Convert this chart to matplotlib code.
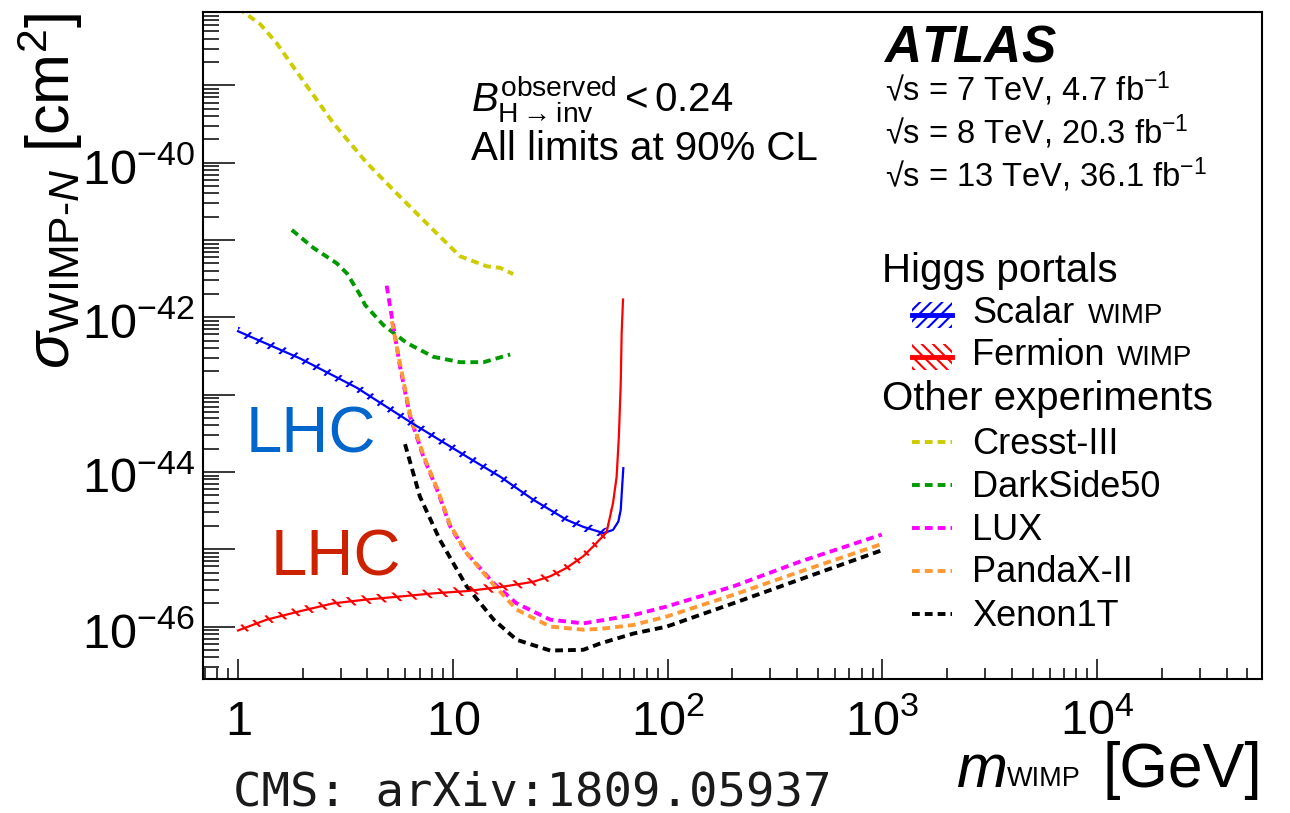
import numpy as np
import matplotlib
matplotlib.use("Agg")
import matplotlib.pyplot as plt
from matplotlib.transforms import blended_transform_factory, offset_copy
from matplotlib.patches import Rectangle
from matplotlib.lines import Line2D
from matplotlib.ticker import FixedLocator, LogLocator, NullFormatter

plt.rcParams["font.family"] = ["Liberation Sans", "DejaVu Sans"]
plt.rcParams["mathtext.fontset"] = "custom"
plt.rcParams["mathtext.rm"] = "Liberation Sans"
plt.rcParams["mathtext.it"] = "Liberation Sans:italic"
plt.rcParams["mathtext.bf"] = "Liberation Sans:bold"
plt.rcParams["mathtext.sf"] = "Liberation Sans"
plt.rcParams["hatch.linewidth"] = 1.5

# ---- Higgs-portal limits (ATLAS, B(H->inv) < 0.24) ----
scalar_mass = [1.0, 1.94, 3.57, 6.3, 11.6, 16.6, 23.7, 33.9, 40.5, 50.3, 55.7, 59.0, 60.5, 61.3, 62.2]
scalar_xsec = [6.61e-43, 2.95e-43, 1.23e-43, 4.47e-44, 1.58e-44, 8.7e-45, 4.37e-45, 2.40e-45,
               1.95e-45, 1.62e-45, 1.78e-45, 2.29e-45, 3.24e-45, 5.89e-45, 1.12e-44]

fermion_mass = [1.0, 1.36, 1.94, 2.78, 3.97, 5.68, 8.11, 11.6, 16.6, 23.7, 28.4, 33.9, 40.5, 45.2,
                52.0, 55.7, 57.9, 59.3, 60.5, 61.1, 62.0]
fermion_xsec = [8.91e-47, 1.23e-46, 1.58e-46, 2.0e-46, 2.24e-46, 2.45e-46, 2.69e-46, 2.88e-46,
                3.24e-46, 3.80e-46, 4.47e-46, 5.75e-46, 8.13e-46, 1.10e-45, 1.66e-45, 3.98e-45,
                8.71e-45, 2.88e-44, 1.41e-43, 6.31e-43, 1.70e-42]

# ---- Direct-detection experiments ----
cresst_mass = [1.0, 1.27, 1.51, 1.94, 2.78, 3.97, 5.68, 8.11, 10.8, 14.4, 16.6, 19.1]
cresst_xsec = [1.0e-38, 6.17e-39, 3.55e-39, 1.32e-39, 3.24e-40, 1.0e-40, 3.63e-41, 1.35e-41,
               6.17e-42, 4.57e-42, 4.37e-42, 3.63e-42]

darkside_mass = [1.78, 2.24, 2.88, 3.21, 3.70, 3.90, 4.75, 6.09, 8.11, 10.8, 13.9, 18.5]
darkside_xsec = [1.35e-41, 7.94e-42, 5.01e-42, 3.72e-42, 1.95e-42, 1.45e-42, 7.94e-43, 4.68e-43,
                 3.09e-43, 2.63e-43, 2.63e-43, 3.31e-43]

lux_mass = [4.92, 5.29, 5.68, 6.32, 7.29, 8.56, 9.7, 11.6, 15.5, 19.8, 28.4, 40.5, 69.3, 99, 202, 413, 993]
lux_xsec = [2.57e-42, 7.59e-43, 2.29e-43, 5.25e-44, 1.58e-44, 5.37e-45, 2.0e-45, 8.91e-46, 3.63e-46,
            2.0e-46, 1.23e-46, 1.10e-46, 1.41e-46, 1.82e-46, 3.31e-46, 6.92e-46, 1.55e-45]

pandax_mass = [5.2, 5.68, 6.32, 7.29, 8.56, 9.7, 11.6, 15.5, 19.8, 28.4, 40.5, 48.4, 69.3, 99, 202, 413, 993]
pandax_xsec = [8.91e-43, 2.51e-43, 5.62e-44, 1.66e-44, 5.62e-45, 2.09e-45, 8.91e-46, 3.47e-46,
               1.66e-46, 1.0e-46, 9.12e-47, 9.33e-47, 1.05e-46, 1.35e-46, 2.57e-46, 5.13e-46, 1.17e-45]

xenon_mass = [5.99, 7.03, 8.71, 11.6, 15.5, 19.8, 28.4, 40.5, 48.4, 69.3, 99, 202, 413, 1000]
xenon_xsec = [2.29e-44, 4.79e-45, 1.32e-45, 3.31e-46, 1.23e-46, 6.76e-47, 4.90e-47, 5.01e-47,
              6.03e-47, 8.13e-47, 1.0e-46, 2.0e-46, 4.07e-46, 9.77e-46]

experiment_names = ["Cresst-III", "DarkSide50", "LUX", "PandaX-II", "Xenon1T"]
experiment_colors = ["#cccc00", "#009900", "#ff00ff", "#ff9933", "#000000"]

x_tick_values = [1, 10, 100, 1000, 10000]
x_tick_labels = ["$1$", "$10$", "$10^{2}$", "$10^{3}$", "$10^{4}$"]
y_tick_values = [1e-46, 1e-44, 1e-42, 1e-40]
y_tick_labels = ["$10^{-46}$", "$10^{-44}$", "$10^{-42}$", "$10^{-40}$"]

W, H = 1290, 813
fig = plt.figure(figsize=(W / 100, H / 100), dpi=100)


def fx(px):
    return px / W


def fy(py):
    return 1 - py / H


ax = fig.add_axes([fx(203), fy(679), (1262 - 203) / W, (679 - 12) / H])
ax.set_xscale("log")
ax.set_yscale("log")
ax.set_xlim(0.687, 5.85e4)
ax.set_ylim(2.1e-47, 8.9e-39)

# experiments: thick short-dashed curves
dash_style = dict(lw=2.8, dashes=(2.0, 1.3))
exp_data = [(cresst_mass, cresst_xsec), (darkside_mass, darkside_xsec), (lux_mass, lux_xsec),
            (pandax_mass, pandax_xsec), (xenon_mass, xenon_xsec)]
for (m, s), c in zip(exp_data, experiment_colors):
    ax.plot(m, s, color=c, zorder=2, **dash_style)

# Higgs-portal limits: line plus thin hatched band
band = 10 ** 0.06
for m, s, c, hatch in [(scalar_mass, scalar_xsec, "#0000ff", "//"),
                       (fermion_mass, fermion_xsec, "#ff0000", "\\\\")]:
    s = np.asarray(s)
    ax.fill_between(m, s / band, s * band, facecolor="none", edgecolor=c,
                    hatch=hatch, linewidth=0, zorder=3)
    ax.plot(m, s, color=c, lw=1.6, zorder=4)

# axes frame and ticks
for sp in ax.spines.values():
    sp.set_linewidth(1.5)
ax.xaxis.set_major_locator(FixedLocator(x_tick_values))
ax.xaxis.set_minor_locator(LogLocator(base=10, subs=np.arange(2, 10), numticks=50))
ax.yaxis.set_major_locator(FixedLocator(10.0 ** np.arange(-47, -37)))
ax.yaxis.set_minor_locator(LogLocator(base=10, subs=np.arange(2, 10), numticks=50))
ax.xaxis.set_minor_formatter(NullFormatter())
ax.yaxis.set_minor_formatter(NullFormatter())
ax.tick_params(which="both", direction="in", top=False, right=False,
               labelbottom=False, labelleft=False, width=1.1)
ax.tick_params(axis="x", which="major", length=14.4)
ax.tick_params(axis="x", which="minor", length=7.9)
ax.tick_params(axis="y", which="major", length=23)
ax.tick_params(axis="y", which="minor", length=11.5)

tick_fs = 35
xlab_tr = offset_copy(blended_transform_factory(ax.transData, ax.transAxes),
                      fig=fig, x=0, y=-56, units="dots")
for v, s in zip(x_tick_values, x_tick_labels):
    ax.text(v, 0, s, transform=xlab_tr, ha="center", va="baseline",
            fontsize=tick_fs, clip_on=False)
ylab_tr = offset_copy(blended_transform_factory(ax.transAxes, ax.transData),
                      fig=fig, x=-8, y=-21, units="dots")
for v, s in zip(y_tick_values, y_tick_labels):
    ax.text(0, v, s, transform=ylab_tr, ha="right", va="baseline",
            fontsize=tick_fs, clip_on=False)

# axis titles
fig.text(fx(1262), fy(787), "[GeV]", ha="right", va="baseline", fontsize=45)
fig.text(fx(1007), fy(786), "WIMP", ha="left", va="baseline", fontsize=19.5)
fig.text(fx(956), fy(787), "$m$", ha="left", va="baseline", fontsize=44)
fig.text(fx(50), fy(13), r"$\sigma_{\mathrm{WIMP}\text{-}N}$ [cm$^{2}$]", rotation=90,
         ha="center", va="top", fontsize=44)

# annotations
fig.text(fx(883), fy(62), r"$\mathregular{ATLAS}$", fontsize=37, fontweight="bold",
         fontstyle="italic", va="baseline")
for yb, s in [(101, "√s = 7 TeV, 4.7 fb$^{-1}$"),
              (144, "√s = 8 TeV, 20.3 fb$^{-1}$"),
              (187, "√s = 13 TeV, 36.1 fb$^{-1}$")]:
    fig.text(fx(885), fy(yb), s, fontsize=23.5, va="baseline")

fig.text(fx(471), fy(112), r"$B^{\mathrm{observed}}_{\mathrm{H\rightarrow inv}} < 0.24$",
         fontsize=29, va="baseline")
fig.text(fx(471), fy(160), "All limits at 90% CL", fontsize=29, va="baseline")

fig.text(fx(246), fy(452), "LHC", fontsize=47, color="#0066cc", va="baseline")
fig.text(fx(271), fy(575), "LHC", fontsize=47, color="#cc2200", va="baseline")

fig.text(fx(233), fy(805), "CMS: arXiv:1809.05937", fontsize=34, va="baseline",
         family="DejaVu Sans Mono", color="#1a1a1a")

# legend
fig.text(fx(882), fy(282), "Higgs portals", fontsize=29, va="baseline")
fig.text(fx(882), fy(410), "Other experiments", fontsize=29, va="baseline")
lx0, lx1 = fx(912), fx(952)
for yc, c, hatch, name, wx in [(315, "#0000ff", "///", "Scalar", 1088),
                               (357, "#ff0000", "\\\\\\", "Fermion", 1117)]:
    fig.add_artist(Rectangle((lx0, fy(yc + 13)), lx1 - lx0, 26 / H, transform=fig.transFigure,
                             facecolor="none", edgecolor=c, hatch=hatch, linewidth=0))
    fig.add_artist(Line2D([lx0, lx1], [fy(yc), fy(yc)], transform=fig.transFigure,
                          color=c, lw=3.5))
    fig.text(fx(972), fy(yc + 8), name, fontsize=26, va="baseline")
    fig.text(fx(wx), fy(yc + 8), "WIMP", fontsize=20, va="baseline")

for i, (name, c) in enumerate(zip(experiment_names, experiment_colors)):
    yc = 442 + 43 * i
    fig.add_artist(Line2D([lx0, lx1], [fy(yc), fy(yc)], transform=fig.transFigure,
                          color=c, **dash_style))
    fig.text(fx(972), fy(yc + 11.5), name, fontsize=26, va="baseline")

fig.savefig("out.png", dpi=100)
